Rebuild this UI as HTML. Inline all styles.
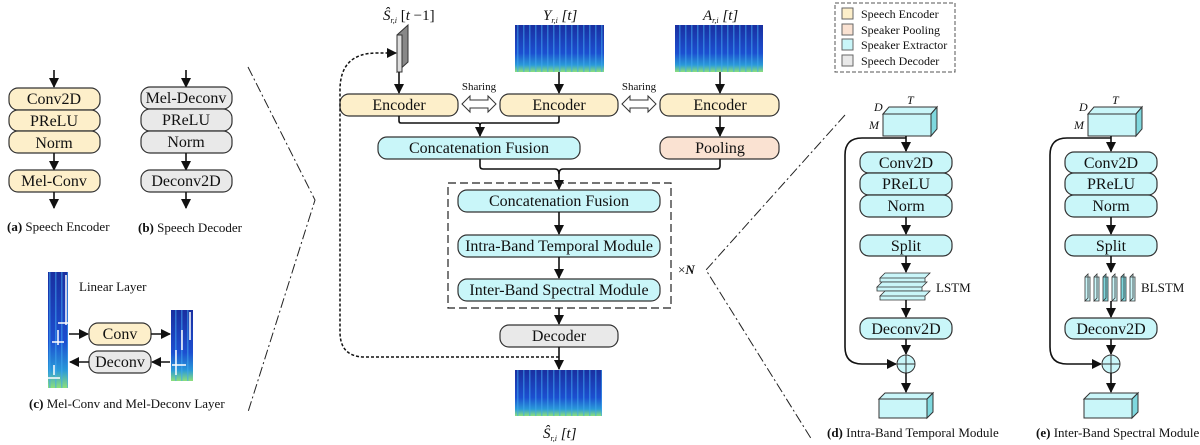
<!DOCTYPE html>
<html><head><meta charset="utf-8"><style>
html,body{margin:0;padding:0;background:#fff}
svg{display:block}
text{font-family:"Liberation Serif",serif;fill:#111}
.b{stroke:#333;stroke-width:1.2}
.enc{fill:#fdefca}.pool{fill:#fae2d2}.cy{fill:#c9f6f9}.gr{fill:#e9e9e9}
.t{font-size:16px;text-anchor:middle}
.s{font-size:13px}
.ln{stroke:#111;stroke-width:1.6;fill:none}
</style></head><body>
<svg width="1200" height="445" viewBox="0 0 1200 445" xmlns="http://www.w3.org/2000/svg">
<defs>
<marker id="A" viewBox="0 0 10 10" refX="9" refY="5" markerWidth="10" markerHeight="10" orient="auto" markerUnits="userSpaceOnUse"><path d="M0,0L10,5L0,10z" fill="#111"/></marker>
<linearGradient id="sp" x1="0" y1="0" x2="0" y2="1">
<stop offset="0" stop-color="#1a2fa0"/><stop offset="0.6" stop-color="#1c4fd0"/><stop offset="0.85" stop-color="#2a9ad8"/><stop offset="1" stop-color="#8ee07a"/></linearGradient>
<pattern id="st" width="6" height="10" patternUnits="userSpaceOnUse"><rect width="6" height="10" fill="none"/><rect x="1" width="1.5" height="10" fill="#3fa8f0" opacity="0.55"/></pattern>
</defs>

<!-- (a) -->
<line class="ln" x1="54" y1="70" x2="54" y2="87" marker-end="url(#A)"/>
<rect class="b enc" x="9" y="88" width="91" height="22" rx="9"/><text class="t" x="54" y="104">Conv2D</text>
<rect class="b enc" x="9" y="110" width="91" height="21" rx="9"/><text class="t" x="54" y="126">PReLU</text>
<rect class="b enc" x="9" y="131" width="91" height="22" rx="9"/><text class="t" x="54" y="148">Norm</text>
<line class="ln" x1="54" y1="153" x2="54" y2="170" marker-end="url(#A)"/>
<rect class="b enc" x="9" y="170" width="91" height="22" rx="9"/><text class="t" x="54" y="186">Mel-Conv</text>
<line class="ln" x1="54" y1="192" x2="54" y2="208" marker-end="url(#A)"/>
<text class="s" x="7" y="231"><tspan font-weight="bold">(a)</tspan> Speech Encoder</text>
<!-- (b) -->
<line class="ln" x1="186" y1="70" x2="186" y2="87" marker-end="url(#A)"/>
<rect class="b gr" x="141" y="87" width="91" height="22" rx="9"/><text class="t" x="186" y="103">Mel-Deconv</text>
<rect class="b gr" x="141" y="109" width="91" height="22" rx="9"/><text class="t" x="186" y="125">PReLU</text>
<rect class="b gr" x="141" y="131" width="91" height="22" rx="9"/><text class="t" x="186" y="147">Norm</text>
<line class="ln" x1="186" y1="153" x2="186" y2="170" marker-end="url(#A)"/>
<rect class="b gr" x="141" y="170" width="91" height="22" rx="9"/><text class="t" x="186" y="186">Deconv2D</text>
<line class="ln" x1="186" y1="192" x2="186" y2="208" marker-end="url(#A)"/>
<text class="s" x="138" y="232"><tspan font-weight="bold">(b)</tspan> Speech Decoder</text>
<!-- (c) -->
<rect x="48" y="272" width="20" height="116" fill="url(#sp)"/><rect x="48" y="272" width="20" height="116" fill="url(#st)"/>
<path d="M66,275V325M58,323H70M58,330V345M52,342H64M54,365V375M48,378H60" stroke="#fff" stroke-width="1.5" fill="none"/>
<text class="s" x="79" y="291">Linear Layer</text>
<rect x="171" y="310" width="22" height="71" fill="url(#sp)"/><rect x="171" y="310" width="22" height="71" fill="url(#st)"/>
<path d="M190,312V340M182,330V350M176,350V375M172,365H186" stroke="#fff" stroke-width="1.5" fill="none"/>
<line class="ln" x1="69" y1="334" x2="88" y2="334" marker-end="url(#A)"/>
<rect class="b enc" x="89" y="323" width="62" height="22" rx="9"/><text class="t" x="120" y="339">Conv</text>
<line class="ln" x1="151" y1="334" x2="170" y2="334" marker-end="url(#A)"/>
<line class="ln" x1="170" y1="362" x2="152" y2="362" marker-end="url(#A)"/>
<rect class="b gr" x="89" y="351" width="62" height="22" rx="9"/><text class="t" x="120" y="367">Deconv</text>
<line class="ln" x1="89" y1="362" x2="70" y2="362" marker-end="url(#A)"/>
<text class="s" x="29" y="408"><tspan font-weight="bold">(c)</tspan> Mel-Conv and Mel-Deconv Layer</text>
<path d="M248,67L315,200L248,412" stroke="#222" stroke-width="1" fill="none" stroke-dasharray="10,3,2,3"/>

<!-- middle -->
<text x="383" y="20" style="font-size:15px;font-style:italic">Ŝ<tspan font-size="8" dy="3">r,i</tspan><tspan dy="-3" font-style="normal"> [<tspan font-style="italic">t</tspan> −1]</tspan></text>
<path d="M397,35L408,25V62L397,72Z" fill="#888" stroke="#333"/><rect x="397" y="35" width="5" height="37" fill="#ddd" stroke="#333"/>
<text x="543" y="20" style="font-size:15px;font-style:italic">Y<tspan font-size="8" dy="3">r,i</tspan><tspan dy="-3"> [t]</tspan></text>
<rect x="515" y="25" width="89" height="47" fill="url(#sp)"/><rect x="515" y="25" width="89" height="47" fill="url(#st)"/>
<text x="703" y="20" style="font-size:15px;font-style:italic">A<tspan font-size="8" dy="3">r,i</tspan><tspan dy="-3"> [t]</tspan></text>
<rect x="675" y="25" width="88" height="47" fill="url(#sp)"/><rect x="675" y="25" width="88" height="47" fill="url(#st)"/>
<line class="ln" x1="399" y1="72" x2="399" y2="93" marker-end="url(#A)"/>
<line class="ln" x1="559" y1="72" x2="559" y2="93" marker-end="url(#A)"/>
<line class="ln" x1="720" y1="72" x2="720" y2="93" marker-end="url(#A)"/>
<rect class="b enc" x="340" y="94" width="118" height="22" rx="9"/><text class="t" x="399" y="110">Encoder</text>
<rect class="b enc" x="500" y="94" width="118" height="22" rx="9"/><text class="t" x="559" y="110">Encoder</text>
<rect class="b enc" x="660" y="94" width="119" height="22" rx="9"/><text class="t" x="720" y="110">Encoder</text>
<text x="479" y="90" text-anchor="middle" style="font-size:11px">Sharing</text>
<text x="639" y="90" text-anchor="middle" style="font-size:11px">Sharing</text>
<path d="M462,104l8,-8v4h18v-4l8,8l-8,8v-4h-18v4z" fill="#fff" stroke="#333"/>
<path d="M622,104l8,-8v4h18v-4l8,8l-8,8v-4h-18v4z" fill="#fff" stroke="#333"/>
<path class="ln" d="M399,116V121q0,2 2,2H478q2,0 2,2V136" marker-end="url(#A)"/>
<path class="ln" d="M559,116V121q0,2 -2,2H482q-2,0 -2,2"/>
<rect class="b cy" x="378" y="137" width="202" height="22" rx="9"/><text class="t" x="479" y="153">Concatenation Fusion</text>
<line class="ln" x1="720" y1="116" x2="720" y2="136" marker-end="url(#A)"/>
<rect class="b pool" x="660" y="137" width="119" height="22" rx="9"/><text class="t" x="720" y="153">Pooling</text>
<path class="ln" d="M480,159V166q0,3 3,3H555q4,0 4,5V189" marker-end="url(#A)"/>
<path class="ln" d="M720,159V166q0,3 -3,3H563q-4,0 -4,5"/>
<rect x="448" y="183" width="223" height="125" fill="none" stroke="#222" stroke-width="1.2" stroke-dasharray="8,4"/>
<rect class="b cy" x="458" y="190" width="202" height="22" rx="9"/><text class="t" x="559" y="206">Concatenation Fusion</text>
<line class="ln" x1="559" y1="212" x2="559" y2="234" marker-end="url(#A)"/>
<rect class="b cy" x="458" y="235" width="202" height="22" rx="9"/><text class="t" x="559" y="251">Intra-Band Temporal Module</text>
<line class="ln" x1="559" y1="257" x2="559" y2="278" marker-end="url(#A)"/>
<rect class="b cy" x="458" y="279" width="202" height="22" rx="9"/><text class="t" x="559" y="295">Inter-Band Spectral Module</text>
<text x="678" y="274" style="font-size:13px">×<tspan font-weight="bold" font-style="italic">N</tspan></text>
<line class="ln" x1="559" y1="308" x2="559" y2="324" marker-end="url(#A)"/>
<rect class="b gr" x="500" y="325" width="118" height="22" rx="9"/><text class="t" x="559" y="341">Decoder</text>
<line class="ln" x1="559" y1="347" x2="559" y2="369" marker-end="url(#A)"/>
<rect x="515" y="370" width="87" height="46" fill="url(#sp)"/><rect x="515" y="370" width="87" height="46" fill="url(#st)"/>
<text x="543" y="438" style="font-size:15px;font-style:italic">Ŝ<tspan font-size="8" dy="3">r,i</tspan><tspan dy="-3"> [t]</tspan></text>
<path d="M559,357H365q-25,0 -25,-25V90q0,-37 37,-37H396" fill="none" stroke="#111" stroke-width="1.5" stroke-dasharray="3,2" marker-end="url(#A)"/>
<path d="M845,115L706,270L812,440" stroke="#222" stroke-width="1" fill="none" stroke-dasharray="10,3,2,3"/>

<!-- legend -->
<rect x="835" y="3" width="120" height="69" fill="none" stroke="#555" stroke-dasharray="4,2"/>
<rect x="842" y="8" width="11" height="11" class="enc" stroke="#666"/><text x="861" y="18" style="font-size:12px">Speech Encoder</text>
<rect x="842" y="24" width="11" height="11" class="pool" stroke="#666"/><text x="861" y="34" style="font-size:12px">Speaker Pooling</text>
<rect x="842" y="39" width="11" height="11" class="cy" stroke="#666"/><text x="861" y="49" style="font-size:12px">Speaker Extractor</text>
<rect x="842" y="55" width="11" height="11" class="gr" stroke="#666"/><text x="861" y="65" style="font-size:12px">Speech Decoder</text>

<!-- (d) -->
<g>
<path d="M883,114L889,107H937L931,114Z" class="cy" stroke="#333"/><path d="M931,114L937,107V129L931,136Z" fill="#7fd8de" stroke="#333"/>
<rect x="883" y="114" width="48" height="22" class="cy" stroke="#333"/>
<text x="874" y="111" style="font-size:12px;font-style:italic">D</text><text x="907" y="104" style="font-size:12px;font-style:italic">T</text><text x="869" y="129" style="font-size:12px;font-style:italic">M</text>
<line class="ln" x1="906" y1="136" x2="906" y2="151" marker-end="url(#A)"/>
<rect class="b cy" x="860" y="152" width="92" height="21" rx="9"/><text class="t" x="906" y="168">Conv2D</text>
<rect class="b cy" x="860" y="173" width="92" height="22" rx="9"/><text class="t" x="906" y="189">PReLU</text>
<rect class="b cy" x="860" y="195" width="92" height="22" rx="9"/><text class="t" x="906" y="211">Norm</text>
<line class="ln" x1="906" y1="217" x2="906" y2="234" marker-end="url(#A)"/>
<rect class="b cy" x="860" y="235" width="92" height="21" rx="9"/><text class="t" x="906" y="251">Split</text>
<line class="ln" x1="906" y1="256" x2="906" y2="272" marker-end="url(#A)"/>
<g stroke="#333" stroke-width="0.8" fill="#c9f6f9">
<path d="M880,278l5,-5h45l-5,5zM880,278h45v4h-45z"/>
<path d="M877,287l5,-5h45l-5,5zM877,287h45v4h-45z"/>
<path d="M880,296l5,-5h45l-5,5zM880,296h45v4h-45z"/>
</g>
<text x="936" y="292" style="font-size:13px">LSTM</text>
<line class="ln" x1="906" y1="300" x2="906" y2="317" marker-end="url(#A)"/>
<rect class="b cy" x="860" y="318" width="92" height="21" rx="9"/><text class="t" x="906" y="334">Deconv2D</text>
<line class="ln" x1="906" y1="339" x2="906" y2="354" marker-end="url(#A)"/>
<circle cx="906" cy="364" r="9" fill="#c9f6f9" stroke="#333"/><path d="M897,364h18M906,355v18" stroke="#333"/>
<path class="ln" d="M906,138H862q-17,0 -17,17V347q0,17 17,17H896" marker-end="url(#A)"/>
<line class="ln" x1="906" y1="373" x2="906" y2="392" marker-end="url(#A)"/>
<path d="M879,399L885,393H933L927,399Z" class="cy" stroke="#333"/><path d="M927,399L933,393V412L927,418Z" fill="#7fd8de" stroke="#333"/>
<rect x="879" y="399" width="48" height="19" class="cy" stroke="#333"/>
<text class="s" x="827" y="437"><tspan font-weight="bold">(d)</tspan> Intra-Band Temporal Module</text>
</g>
<!-- (e) -->
<g transform="translate(205,0)">
<path d="M883,114L889,107H937L931,114Z" class="cy" stroke="#333"/><path d="M931,114L937,107V129L931,136Z" fill="#7fd8de" stroke="#333"/>
<rect x="883" y="114" width="48" height="22" class="cy" stroke="#333"/>
<text x="874" y="111" style="font-size:12px;font-style:italic">D</text><text x="907" y="104" style="font-size:12px;font-style:italic">T</text><text x="869" y="129" style="font-size:12px;font-style:italic">M</text>
<line class="ln" x1="906" y1="136" x2="906" y2="151" marker-end="url(#A)"/>
<rect class="b cy" x="860" y="152" width="92" height="21" rx="9"/><text class="t" x="906" y="168">Conv2D</text>
<rect class="b cy" x="860" y="173" width="92" height="22" rx="9"/><text class="t" x="906" y="189">PReLU</text>
<rect class="b cy" x="860" y="195" width="92" height="22" rx="9"/><text class="t" x="906" y="211">Norm</text>
<line class="ln" x1="906" y1="217" x2="906" y2="234" marker-end="url(#A)"/>
<rect class="b cy" x="860" y="235" width="92" height="21" rx="9"/><text class="t" x="906" y="251">Split</text>
<line class="ln" x1="906" y1="256" x2="906" y2="272" marker-end="url(#A)"/>
<g stroke="#333" stroke-width="0.8" fill="#c9f6f9">
<path d="M880,277l3,-3v24l-3,3z M880,277h5v24h-5z"/>
<path d="M889,277l3,-3v24l-3,3z M889,277h5v24h-5z"/>
<path d="M898,277l3,-3v24l-3,3z M898,277h5v24h-5z" fill="#7fd8de"/>
<path d="M907,277l3,-3v24l-3,3z M907,277h5v24h-5z"/>
<path d="M916,277l3,-3v24l-3,3z M916,277h5v24h-5z" fill="#7fd8de"/>
<path d="M925,277l3,-3v24l-3,3z M925,277h5v24h-5z"/>
</g>
<text x="936" y="292" style="font-size:13px">BLSTM</text>
<line class="ln" x1="906" y1="301" x2="906" y2="317" marker-end="url(#A)"/>
<rect class="b cy" x="860" y="318" width="92" height="21" rx="9"/><text class="t" x="906" y="334">Deconv2D</text>
<line class="ln" x1="906" y1="339" x2="906" y2="354" marker-end="url(#A)"/>
<circle cx="906" cy="364" r="9" fill="#c9f6f9" stroke="#333"/><path d="M897,364h18M906,355v18" stroke="#333"/>
<path class="ln" d="M906,138H862q-17,0 -17,17V347q0,17 17,17H896" marker-end="url(#A)"/>
<line class="ln" x1="906" y1="373" x2="906" y2="392" marker-end="url(#A)"/>
<path d="M879,399L885,393H933L927,399Z" class="cy" stroke="#333"/><path d="M927,399L933,393V412L927,418Z" fill="#7fd8de" stroke="#333"/>
<rect x="879" y="399" width="48" height="19" class="cy" stroke="#333"/>
<text class="s" x="831" y="437"><tspan font-weight="bold">(e)</tspan> Inter-Band Spectral Module</text>
</g>
</svg>
</body></html>
